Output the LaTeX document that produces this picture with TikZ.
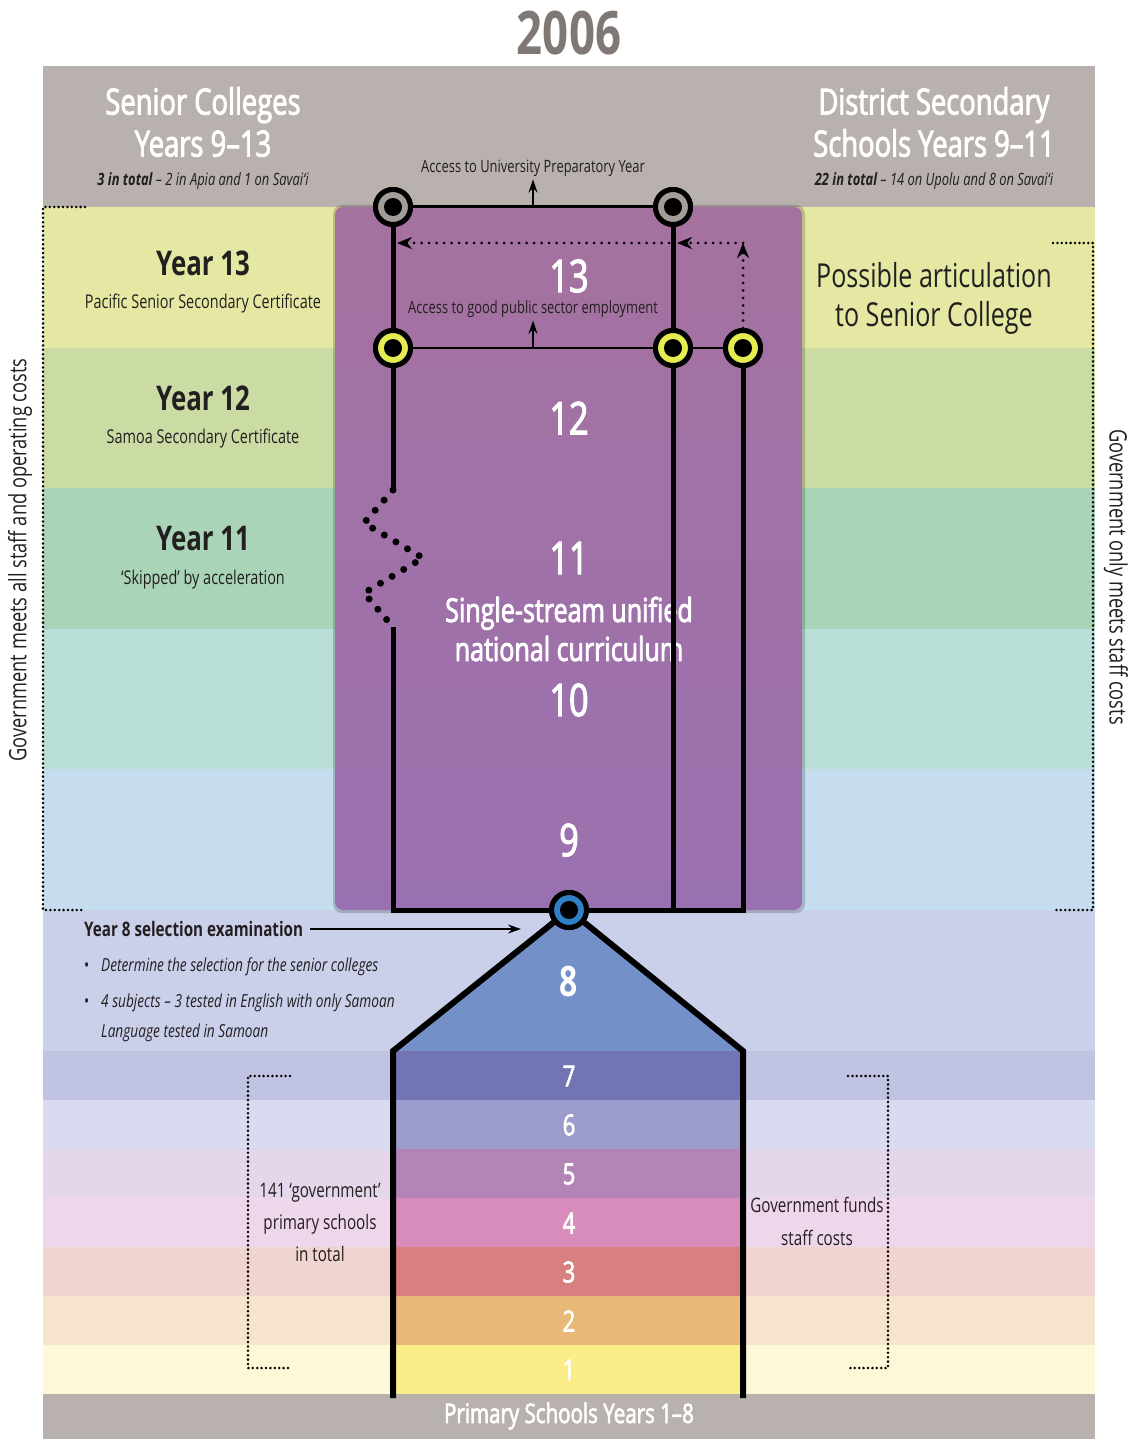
\documentclass[tikz,border=0pt]{standalone}
\usepackage{fontspec}
\setmainfont{Open Sans}[FakeStretch=0.76]
\newfontfamily\semi{Open Sans}[FakeStretch=0.76, FakeBold=2.4, Ligatures=TeX]
\usetikzlibrary{arrows.meta,calc}
\definecolor{hdr}{HTML}{B8B1AD}
\definecolor{ttl}{HTML}{7F7875}
\definecolor{txt}{HTML}{231F20}
\definecolor{b13}{HTML}{E5E8A2}
\definecolor{b12}{HTML}{CADBA3}
\definecolor{b11}{HTML}{A9D4B8}
\definecolor{b10}{HTML}{BADFD9}
\definecolor{b9}{HTML}{C6DDEF}
\definecolor{b8}{HTML}{CAD0EA}
\definecolor{b7}{HTML}{C0C3E1}
\definecolor{b6}{HTML}{D9DBF0}
\definecolor{b5}{HTML}{E4D7EB}
\definecolor{b4}{HTML}{EED7EB}
\definecolor{b3}{HTML}{F0D4D0}
\definecolor{b2}{HTML}{F6E4CD}
\definecolor{b1}{HTML}{FDF8D8}
\definecolor{i8}{HTML}{7490C8}
\definecolor{i7}{HTML}{7274B3}
\definecolor{i6}{HTML}{9C9DCC}
\definecolor{i5}{HTML}{B384B6}
\definecolor{i4}{HTML}{D88CBB}
\definecolor{i3}{HTML}{D88080}
\definecolor{i2}{HTML}{E8B878}
\definecolor{i1}{HTML}{FBEE88}
\definecolor{ptop}{HTML}{A5729F}
\definecolor{pbot}{HTML}{9A71B0}
\definecolor{rgray}{HTML}{A39D99}
\definecolor{ryel}{HTML}{E4EC50}
\definecolor{rblue}{HTML}{2F80C6}
\begin{document}
\begin{tikzpicture}[x=1pt,y=-1pt,
  ringnode/.style={circle, draw=black, line width=5pt, minimum size=35pt, inner sep=0pt,
    path picture={\fill[black] (path picture bounding box.center) circle (9pt);}},
  heavy/.style={line width=5pt, line join=miter},
  arr/.style={line width=1.4pt, -{Stealth[length=13pt,width=9pt]}},
  dotarr/.style={line width=3pt, line cap=round, dash pattern=on 0pt off 7.5pt, -{Stealth[length=15pt,width=12pt]}},
  brk/.style={line width=2.8pt, line cap=round, dash pattern=on 0pt off 4.4pt},
  zz/.style={line width=7pt, line cap=round, dash pattern=on 0pt off 13.5pt},
  lbl/.style={inner sep=0pt, text=txt, align=center},
  hd/.style={lbl, text=white, font=\semi\fontsize{36}{42}\selectfont},
  yr/.style={lbl, font=\bfseries\fontsize{34}{40}\selectfont},
  sub/.style={lbl, font=\fontsize{19}{22}\selectfont},
  num/.style={lbl, text=white, font=\semi\fontsize{45}{45}\selectfont},
  snum/.style={lbl, text=white, font=\semi\fontsize{29}{29}\selectfont}]
\useasboundingbox (0,0) rectangle (1137,1439);
\fill[white] (0,0) rectangle (1137,1439);
% bands
\fill[hdr] (43,66) rectangle (1095,207);
\fill[b13] (43,207) rectangle (1095,348);
\fill[b12] (43,348) rectangle (1095,488);
\fill[b11] (43,488) rectangle (1095,629);
\fill[b10] (43,629) rectangle (1095,769);
\fill[b9] (43,769) rectangle (1095,910);
\fill[b8] (43,910) rectangle (1095,1051);
\fill[b7] (43,1051) rectangle (1095,1100);
\fill[b6] (43,1100) rectangle (1095,1149);
\fill[b5] (43,1149) rectangle (1095,1198);
\fill[b4] (43,1198) rectangle (1095,1247);
\fill[b3] (43,1247) rectangle (1095,1296);
\fill[b2] (43,1296) rectangle (1095,1345);
\fill[b1] (43,1345) rectangle (1095,1394);
\fill[hdr] (43,1394) rectangle (1095,1439);
% purple box
\fill[black, opacity=0.18, rounded corners=9pt] (333,205) rectangle (805,913);
\shade[top color=ptop, bottom color=pbot, rounded corners=8pt] (335,207) rectangle (802,910);
% primary fills
\fill[i8] (569,910) -- (393,1051) -- (743,1051) -- cycle;
\fill[i7] (393,1051) rectangle (743,1100);
\fill[i6] (393,1100) rectangle (743,1149);
\fill[i5] (393,1149) rectangle (743,1198);
\fill[i4] (393,1198) rectangle (743,1247);
\fill[i3] (393,1247) rectangle (743,1296);
\fill[i2] (393,1296) rectangle (743,1345);
\fill[i1] (393,1345) rectangle (743,1394);

% title and headers
\node[lbl, text=ttl, font=\bfseries\fontsize{60}{60}\selectfont] (title) at (569,33) {2006};
\node[hd] (sc) at (203,122) {Senior Colleges\\Years 9–13};
\node[lbl, font=\itshape\fontsize{17}{20}\selectfont] (scn) at (203,181) {\textbf{3 in total} – 2 in Apia and 1 on Savai‘i};
\node[hd] (ds) at (934,122) {District Secondary\\Schools Years 9–11};
\node[lbl, font=\itshape\fontsize{17}{20}\selectfont] (dsn) at (934,181) {\textbf{22 in total} – 14 on Upolu and 8 on Savai‘i};

% year labels left
\node[yr] (y13) at (203,263) {Year 13};
\node[sub] (y13s) at (203,304) {Pacific Senior Secondary Certificate};
\node[yr] (y12) at (203,398) {Year 12};
\node[sub] (y12s) at (203,439) {Samoa Secondary Certificate};
\node[yr] (y11) at (203,539) {Year 11};
\node[sub] (y11s) at (203,580) {‘Skipped’ by acceleration};
\node[lbl, font=\fontsize{33}{39}\selectfont] (pa) at (934,298) {Possible articulation\\to Senior College};

% numbers in purple
\node[num] (n13) at (569,276) {13};
\node[num] (n12) at (569,418) {12};
\node[num] (n11) at (569,558) {11};
\node[lbl, text=white, font=\semi\fontsize{33}{39}\selectfont] (ss) at (569,629) {Single-stream unified\\national curriculum};
\node[num] (n10) at (569,700) {10};
\node[num] (n9) at (569,840) {9};
\node[lbl, text=white, font=\bfseries\fontsize{42}{42}\selectfont] (n8) at (569,982) {8};
\node[snum] (n7) at (569,1076) {7};
\node[snum] (n6) at (569,1125) {6};
\node[snum] (n5) at (569,1174) {5};
\node[snum] (n4) at (569,1223) {4};
\node[snum] (n3) at (569,1272) {3};
\node[snum] (n2) at (569,1321) {2};
\node[snum] (n1) at (569,1370) {1};
\node[lbl, text=white, font=\semi\fontsize{27}{27}\selectfont] (ps) at (569,1416) {Primary Schools Years 1–8};

% side rotated texts
\node[lbl, rotate=90, font=\fontsize{24}{24}\selectfont] (gl) at (20,560) {Government meets all staff and operating costs};
\node[lbl, rotate=-90, font=\fontsize{24}{24}\selectfont] (gr) at (1116,577) {Government only meets staff costs};

% year 8 texts
\node[lbl, anchor=west, font=\bfseries\fontsize{20}{20}\selectfont] (y8) at (84,929) {Year 8 selection examination};
\node[lbl, anchor=west, font=\fontsize{18}{18}\selectfont] (bu1) at (84,967) {•};
\node[lbl, anchor=west, font=\itshape\fontsize{18}{18}\selectfont] (t1) at (101,967) {Determine the selection for the senior colleges};
\node[lbl, anchor=west, font=\fontsize{18}{18}\selectfont] (bu2) at (84,1003) {•};
\node[lbl, anchor=west, font=\itshape\fontsize{18}{18}\selectfont] (t2) at (101,1003) {4 subjects – 3 tested in English with only Samoan};
\node[lbl, anchor=west, font=\itshape\fontsize{18}{18}\selectfont] (t3) at (101,1033) {Language tested in Samoan};

\node[lbl, font=\fontsize{20}{32}\selectfont] (gp) at (320,1222) {141 ‘government’\\primary schools\\in total};
\node[lbl, font=\fontsize{20}{33}\selectfont] (gf) at (817,1221) {Government funds\\staff costs};

% rings
\node[ringnode, fill=rgray] (tl) at (393,207) {};
\node[ringnode, fill=rgray] (tr) at (673,207) {};
\node[ringnode, fill=ryel] (ml) at (393,348) {};
\node[ringnode, fill=ryel] (mm) at (673,348) {};
\node[ringnode, fill=ryel] (mr) at (743,348) {};
\node[ringnode, fill=rblue] (bc) at (569,910) {};

% coordinates
\coordinate (z0) at (393,490);
\coordinate (z1) at (364,523);
\coordinate (z2) at (423,558);
\coordinate (z3) at (364,593);
\coordinate (z4) at (393,627);
\coordinate (bl) at (393,910);
\coordinate (br) at (743,910);
\coordinate (bm) at (673,910);
\coordinate (tL) at (393,1051);
\coordinate (tR) at (743,1051);
\coordinate (eL) at (393,1398);
\coordinate (eR) at (743,1398);
\coordinate (amid) at ($(tl)!0.5!(tr)$);
\coordinate (bmid) at ($(ml)!0.5!(mm)$);
\coordinate (dc) at (743,243);
\coordinate (dm1) at (677,243);
\coordinate (dm2) at (669,243);
\coordinate (dl) at (397,243);
\coordinate (y8tip) at (521,929);

% structure lines
\draw[line width=3pt] (tl) -- (tr);
\draw[line width=2.5pt] (ml) -- (mm) -- (mr);
\draw[heavy] (tl) -- (ml);
\draw[heavy] (ml) -- (z0);
\draw[zz] (z0) -- (z1) -- (z2) -- (z3) -- (z4);
\draw[heavy] (z4) -- (bl) -- (br) -- (mr);
\draw[heavy] (tr) -- (mm);
\draw[heavy] (mm) -- (bm);
\draw[line width=6pt, line join=miter] (bc) -- (tL) -- (eL);
\draw[line width=6pt, line join=miter] (bc) -- (tR) -- (eR);

% access arrows
\node[lbl, font=\fontsize{17}{17}\selectfont, inner sep=3pt] (ua) at (533,168) {Access to University Preparatory Year};
\node[lbl, font=\fontsize{17}{17}\selectfont, inner sep=3pt] (pe) at (533,309) {Access to good public sector employment};
\draw[arr] (amid) -- (ua.south);
\draw[arr] (bmid) -- (pe.south);

% dotted articulation arrows
\draw[dotarr] (mr.north) -- (dc);
\draw[dotarr] (dc) -- (dm1);
\draw[dotarr] (dm2) -- (dl);

% year 8 arrow
\draw[arr] ([xshift=7pt]y8.east) -- (y8tip);

% rings on top of lines
\node[ringnode, fill=rgray] at (tl) {};
\node[ringnode, fill=rgray] at (tr) {};
\node[ringnode, fill=ryel] at (ml) {};
\node[ringnode, fill=ryel] at (mm) {};
\node[ringnode, fill=ryel] at (mr) {};
\node[ringnode, fill=rblue] at (bc) {};

% brackets
\draw[brk] (85,207) -- (43,207) -- (43,910) -- (85,910);
\draw[brk] (1053,243) -- (1093,243) -- (1093,910) -- (1053,910);
\draw[brk] (290,1076) -- (248,1076) -- (248,1368) -- (290,1368);
\draw[brk] (848,1076) -- (888,1076) -- (888,1368) -- (848,1368);
\end{tikzpicture}
\end{document}
